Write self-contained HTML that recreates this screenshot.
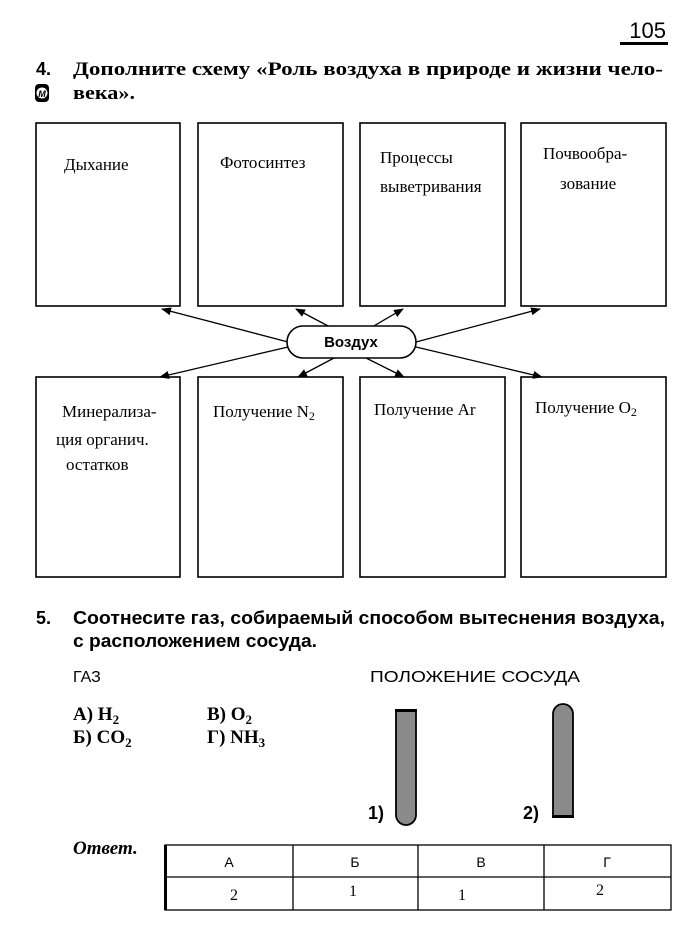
<!DOCTYPE html>
<html><head><meta charset="utf-8"><style>
html,body{margin:0;padding:0;background:#fff;}
svg{display:block;}
.s{font-family:"Liberation Serif","Noto Serif CJK SC",serif;}
.a{font-family:"Liberation Sans","Noto Sans CJK SC",sans-serif;}
</style></head><body>
<svg width="700" height="930" viewBox="0 0 700 930" xmlns="http://www.w3.org/2000/svg">
<defs><marker id="ar" markerWidth="10" markerHeight="8" refX="9" refY="4" orient="auto" markerUnits="userSpaceOnUse"><path d="M0,0 L10,4 L0,8 Z" fill="#000"/></marker></defs>
<text x="666" y="38" text-anchor="end" class="a" font-size="22">105</text>
<rect x="620" y="42" width="48" height="3" fill="#000"/>
<text x="36" y="75" class="a" font-size="18" font-weight="bold">4.</text>
<text x="73" y="75" class="s" font-size="19" font-weight="bold" textLength="590" lengthAdjust="spacingAndGlyphs">Дополните схему «Роль воздуха в природе и жизни чело-</text>
<text x="73" y="99" class="s" font-size="19" font-weight="bold" textLength="62" lengthAdjust="spacingAndGlyphs">века».</text>
<rect x="35" y="84" width="14" height="18" rx="4" fill="#000"/>
<circle cx="42" cy="93" r="5.5" fill="#fff"/>
<text x="42" y="97" text-anchor="middle" class="a" font-size="9" font-weight="bold" font-style="italic">M</text>
<g fill="none" stroke="#000" stroke-width="1.6">
<rect x="36" y="123" width="144" height="183"/>
<rect x="198" y="123" width="145" height="183"/>
<rect x="360" y="123" width="145" height="183"/>
<rect x="521" y="123" width="145" height="183"/>
<rect x="36" y="377" width="144" height="200"/>
<rect x="198" y="377" width="145" height="200"/>
<rect x="360" y="377" width="145" height="200"/>
<rect x="521" y="377" width="145" height="200"/>
</g>
<g stroke="#000" stroke-width="1.3" marker-end="url(#ar)">
<line x1="288" y1="342" x2="162" y2="309"/>
<line x1="288" y1="347" x2="160" y2="377"/>
<line x1="330" y1="327" x2="296" y2="309"/>
<line x1="372" y1="327" x2="403" y2="309"/>
<line x1="334" y1="358" x2="298" y2="377"/>
<line x1="366" y1="358" x2="404" y2="377"/>
<line x1="416" y1="342" x2="540" y2="309"/>
<line x1="416" y1="347" x2="542" y2="377"/>
</g>
<rect x="287" y="326" width="129" height="32" rx="16" fill="#fff" stroke="#000" stroke-width="1.6"/>
<text x="351" y="347" text-anchor="middle" class="a" font-size="15" font-weight="bold">Воздух</text>
<g class="s" font-size="17">
<text x="64" y="170">Дыхание</text>
<text x="220" y="168">Фотосинтез</text>
<text x="380" y="163">Процессы</text>
<text x="380" y="192">выветривания</text>
<text x="543" y="159">Почвообра-</text>
<text x="560" y="189">зование</text>
<text x="62" y="417">Минерализа-</text>
<text x="56" y="445">ция органич.</text>
<text x="66" y="470">остатков</text>
<text x="213" y="417">Получение N<tspan font-size="12" dy="3">2</tspan></text>
<text x="374" y="415">Получение Ar</text>
<text x="535" y="413">Получение O<tspan font-size="12" dy="3">2</tspan></text>
</g>
<text x="36" y="624" class="a" font-size="18" font-weight="bold">5.</text>
<text x="73" y="624" class="a" font-size="18" font-weight="bold" textLength="592" lengthAdjust="spacingAndGlyphs">Соотнесите газ, собираемый способом вытеснения воздуха,</text>
<text x="73" y="647" class="a" font-size="18" font-weight="bold" textLength="244" lengthAdjust="spacingAndGlyphs">с расположением сосуда.</text>
<text x="73" y="682" class="a" font-size="16">ГАЗ</text>
<text x="370" y="682" class="a" font-size="16" textLength="210" lengthAdjust="spacingAndGlyphs">ПОЛОЖЕНИЕ СОСУДА</text>
<g class="s" font-size="19" font-weight="bold">
<text x="73" y="720">А) H<tspan font-size="13" dy="4">2</tspan></text>
<text x="73" y="743">Б) CO<tspan font-size="13" dy="4">2</tspan></text>
<text x="207" y="720">В) O<tspan font-size="13" dy="4">2</tspan></text>
<text x="207" y="743">Г) NH<tspan font-size="13" dy="4">3</tspan></text>
</g>
<path d="M396,711 L396,815 A10,10 0 0 0 416,815 L416,711 Z" fill="#8a8a8a" stroke="#000" stroke-width="1.8"/>
<rect x="395" y="709" width="22" height="3" fill="#000"/>
<path d="M553,817 L553,714 A10,10 0 0 1 573,714 L573,817 Z" fill="#8a8a8a" stroke="#000" stroke-width="1.8"/>
<rect x="552" y="815" width="22" height="3" fill="#000"/>
<text x="368" y="819" class="a" font-size="18" font-weight="bold">1)</text>
<text x="523" y="819" class="a" font-size="18" font-weight="bold">2)</text>
<text x="73" y="854" class="s" font-size="19" font-weight="bold" font-style="italic">Ответ.</text>
<g fill="none" stroke="#000" stroke-width="1.3">
<rect x="165" y="845" width="506" height="65"/>
<line x1="165" y1="877" x2="671" y2="877"/>
<line x1="293" y1="845" x2="293" y2="910"/>
<line x1="418" y1="845" x2="418" y2="910"/>
<line x1="544" y1="845" x2="544" y2="910"/>
</g>
<rect x="164" y="845" width="3" height="65" fill="#000"/>
<g class="a" font-size="14" text-anchor="middle">
<text x="229" y="867">А</text><text x="355" y="867">Б</text><text x="481" y="867">В</text><text x="607" y="867">Г</text>
</g>
<g class="s" font-size="16" text-anchor="middle">
<text x="234" y="900">2</text><text x="353" y="896">1</text><text x="462" y="900">1</text><text x="600" y="895">2</text>
</g>
</svg>
</body></html>
